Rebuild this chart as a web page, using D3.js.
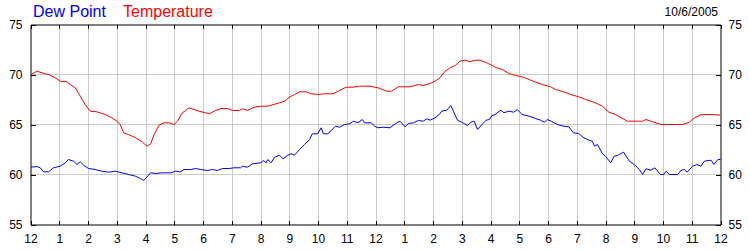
<!DOCTYPE html>
<html>
<head>
<meta charset="utf-8">
<script src="https://cdn.jsdelivr.net/npm/d3@7"></script>
<style>
    body { margin: 0; background: #fff; }
    svg text { font-family: Arial, "Liberation Sans", sans-serif; }
</style>
</head>
<body>
<div id="chart"></div>
<script>
'use strict';

// hours since midnight, 10/6/2005
const tempHours = [0.02, 0.22, 0.51, 0.63, 0.86, 1.03, 1.27, 1.38, 1.56, 1.73, 1.90, 2.08, 2.31, 2.60, 2.83, 3.01,
    3.12, 3.24, 3.41, 3.65, 3.88, 4.05, 4.18, 4.30, 4.47, 4.64, 4.82, 4.99, 5.11, 5.28, 5.40, 5.51, 5.69, 5.86,
    6.09, 6.21, 6.39, 6.62, 6.85, 7.02, 7.26, 7.37, 7.55, 7.78, 8.01, 8.25, 8.66, 8.84, 9.01, 9.18, 9.36, 9.59,
    9.76, 9.99, 10.23, 10.52, 10.75, 10.98, 11.22, 11.45, 11.80, 12.09, 12.39, 12.56, 12.79, 13.20, 13.49, 13.66,
    13.90, 14.07, 14.24, 14.42, 14.60, 14.77, 14.94, 15.12, 15.29, 15.46, 15.64, 15.87, 16.05, 16.22, 16.41,
    16.64, 16.87, 17.10, 17.34, 17.57, 17.80, 18.09, 18.26, 18.55, 18.78, 19.07, 19.31, 19.60, 19.89, 20.12,
    20.35, 20.54, 20.77, 21.29, 21.41, 21.58, 21.93, 22.69, 22.92, 23.09, 23.32, 23.67, 24.0];
const tempValues = [70.0, 70.33, 70.07, 70.0, 69.67, 69.33, 69.27, 69.0, 68.67, 67.83, 67.0, 66.33, 66.27, 66.0,
    65.67, 65.33, 65.0, 64.17, 64.0, 63.67, 63.27, 62.83, 63.07, 64.0, 64.93, 65.17, 65.17, 65.0, 65.33, 66.17,
    66.4, 66.67, 66.5, 66.33, 66.17, 66.07, 66.33, 66.6, 66.6, 66.4, 66.4, 66.57, 66.4, 66.73, 66.83, 66.83,
    67.17, 67.33, 67.73, 68.0, 68.27, 68.27, 68.07, 68.0, 68.07, 68.07, 68.4, 68.73, 68.73, 68.83, 68.83, 68.67,
    68.33, 68.33, 68.77, 68.77, 69.0, 68.9, 69.1, 69.33, 69.67, 70.33, 70.67, 70.9, 71.33, 71.43, 71.27, 71.43,
    71.43, 71.17, 70.9, 70.67, 70.5, 70.1, 69.9, 69.77, 69.5, 69.23, 69.0, 68.77, 68.5, 68.27, 68.0, 67.77,
    67.5, 67.23, 66.83, 66.23, 66.0, 65.67, 65.33, 65.33, 65.5, 65.33, 65.0, 65.0, 65.23, 65.67, 65.97, 66.0,
    65.93];

const dewHours = [0.02, 0.22, 0.34, 0.45, 0.63, 0.80, 1.03, 1.21, 1.32, 1.50, 1.61, 1.73, 1.85, 2.02, 2.25, 2.48,
    2.72, 2.95, 3.18, 3.41, 3.65, 3.82, 3.94, 4.05, 4.18, 4.35, 4.59, 4.88, 5.05, 5.22, 5.34, 5.57, 5.75, 5.92,
    6.15, 6.33, 6.50, 6.68, 6.91, 7.08, 7.31, 7.37, 7.55, 7.72, 8.01, 8.10, 8.20, 8.25, 8.37, 8.49, 8.66, 8.78,
    8.95, 9.07, 9.18, 9.36, 9.53, 9.71, 9.80, 9.99, 10.11, 10.19, 10.34, 10.46, 10.61, 10.75, 10.93, 11.10,
    11.24, 11.39, 11.54, 11.62, 11.85, 11.97, 12.09, 12.26, 12.50, 12.74, 12.85, 13.03, 13.14, 13.32, 13.49,
    13.66, 13.78, 13.90, 14.07, 14.22, 14.30, 14.48, 14.62, 14.71, 14.85, 15.00, 15.20, 15.31, 15.43, 15.55,
    15.70, 15.85, 15.96, 16.05, 16.16, 16.31, 16.37, 16.46, 16.64, 16.81, 16.93, 17.10, 17.34, 17.57, 17.74,
    17.88, 17.97, 18.11, 18.32, 18.55, 18.73, 18.88, 19.07, 19.25, 19.43, 19.54, 19.62, 19.72, 19.89, 20.00,
    20.18, 20.30, 20.41, 20.48, 20.63, 20.83, 21.00, 21.18, 21.29, 21.41, 21.58, 21.72, 21.91, 22.02, 22.11,
    22.22, 22.51, 22.63, 22.74, 22.84, 23.03, 23.19, 23.32, 23.44, 23.67, 23.77, 23.91, 24.0];
const dewValues = [60.73, 60.8, 60.67, 60.27, 60.27, 60.67, 60.83, 61.17, 61.5, 61.33, 61.0, 61.27, 60.93, 60.6,
    60.5, 60.33, 60.23, 60.33, 60.17, 60.0, 59.83, 59.6, 59.4, 59.75, 60.17, 60.1, 60.17, 60.17, 60.33, 60.27,
    60.5, 60.5, 60.6, 60.5, 60.4, 60.5, 60.4, 60.6, 60.6, 60.67, 60.67, 60.83, 60.73, 61.07, 61.17, 61.4,
    61.17, 61.5, 61.17, 61.73, 61.93, 61.57, 61.93, 62.07, 61.93, 62.5, 63.0, 63.5, 64.07, 64.07, 64.67, 64.07,
    64.07, 64.4, 64.83, 64.73, 65.0, 65.07, 65.33, 65.17, 65.5, 65.17, 65.17, 64.83, 64.67, 64.73, 64.67,
    65.17, 65.33, 64.77, 65.1, 65.17, 65.4, 65.33, 65.57, 65.43, 65.67, 66.0, 66.33, 66.43, 66.9, 66.33,
    65.43, 65.23, 64.9, 65.23, 65.33, 64.5, 65.0, 65.43, 65.5, 65.9, 66.0, 66.33, 66.43, 66.17, 66.33, 66.23,
    66.5, 66.0, 65.83, 65.6, 65.43, 65.23, 65.5, 65.33, 65.0, 64.83, 64.77, 64.17, 64.1, 63.67, 63.43, 63.33,
    62.83, 63.0, 62.1, 61.83, 61.17, 61.83, 61.9, 62.0, 62.23, 61.33, 61.0, 60.5, 60.0, 60.57, 60.43, 60.67,
    60.0, 60.0, 60.33, 60.0, 60.0, 60.43, 60.5, 60.23, 60.83, 61.0, 60.83, 61.33, 61.43, 61.0, 61.5, 61.5];

const hourLabels = ['12', '1', '2', '3', '4', '5', '6', '7', '8', '9', '10', '11',
    '12', '1', '2', '3', '4', '5', '6', '7', '8', '9', '10', '11', '12'];
const yTicks = [55, 60, 65, 70, 75];
const seriesNames = ['Dew Point', 'Temperature'];
const dateLabel = '10/6/2005';

const width = 750;
const height = 250;
const margin = { top: 24.5, right: 29.5, bottom: 25.5, left: 30.5 };

const svg = d3.select('#chart').append('svg')
    .attr('width', width)
    .attr('height', height);

const x = d3.scaleLinear().domain([0, 24]).range([margin.left, width - margin.right]);
const y = d3.scaleLinear().domain([55, 75]).range([height - margin.bottom, margin.top]);

const hourTicks = d3.range(0, 25);

// grid
const grid = svg.append('g').attr('stroke', '#cccccc').attr('stroke-width', 1);
hourTicks.slice(1, -1).forEach((h) => {
    grid.append('line')
        .attr('x1', Math.round(x(h)) + 0.5).attr('x2', Math.round(x(h)) + 0.5)
        .attr('y1', y(75)).attr('y2', y(55));
});
yTicks.slice(1, -1).forEach((v) => {
    grid.append('line')
        .attr('x1', x(0)).attr('x2', x(24))
        .attr('y1', y(v)).attr('y2', y(v));
});

// axes, ticks pointing inward
const fmtHour = (d, i) => hourLabels[i];

const xBottom = svg.append('g')
    .attr('transform', `translate(0,${y(55)})`)
    .call(d3.axisBottom(x).tickValues(hourTicks).tickSizeInner(-4).tickSizeOuter(0).tickPadding(10).tickFormat(fmtHour));
const xTop = svg.append('g')
    .attr('transform', `translate(0,${y(75)})`)
    .call(d3.axisTop(x).tickValues(hourTicks).tickSizeInner(-4).tickSizeOuter(0).tickFormat(''));
const yLeft = svg.append('g')
    .attr('transform', `translate(${x(0)},0)`)
    .call(d3.axisLeft(y).tickValues(yTicks).tickSizeInner(-5).tickSizeOuter(0).tickPadding(8));
const yRight = svg.append('g')
    .attr('transform', `translate(${x(24)},0)`)
    .call(d3.axisRight(y).tickValues(yTicks).tickSizeInner(-5).tickSizeOuter(0).tickPadding(8));

[xBottom, xTop, yLeft, yRight].forEach((g) => {
    g.selectAll('.domain').attr('stroke', '#000');
    g.selectAll('.tick line').attr('stroke', '#000').attr('shape-rendering', 'crispEdges');
    g.selectAll('.tick text').attr('fill', '#000').style('font-size', '12px')
        .style('font-family', 'Arial, "Liberation Sans", sans-serif');
});
xBottom.selectAll('.tick text').attr('dy', '0.71em');

// series
const line = d3.line()
    .x((d) => x(d[0]))
    .y((d) => y(d[1]));

const tempData = tempHours.map((h, i) => [h, tempValues[i]]);
const dewData = dewHours.map((h, i) => [h, dewValues[i]]);

svg.append('path')
    .datum(tempData)
    .attr('fill', 'none')
    .attr('stroke', '#ff0000')
    .attr('stroke-width', 1)
    .attr('d', line);

svg.append('path')
    .datum(dewData)
    .attr('fill', 'none')
    .attr('stroke', '#0000ff')
    .attr('stroke-width', 1)
    .attr('d', line);

// legend + date
svg.append('text')
    .attr('x', 33).attr('y', 17)
    .attr('fill', '#0000ff')
    .style('font-size', '16px')
    .text(seriesNames[0]);
svg.append('text')
    .attr('x', 123).attr('y', 17)
    .attr('fill', '#ff0000')
    .style('font-size', '16px')
    .text(seriesNames[1]);
svg.append('text')
    .attr('x', 718).attr('y', 16)
    .attr('text-anchor', 'end')
    .attr('fill', '#000')
    .style('font-size', '12px')
    .text(dateLabel);
</script>
</body>
</html>
